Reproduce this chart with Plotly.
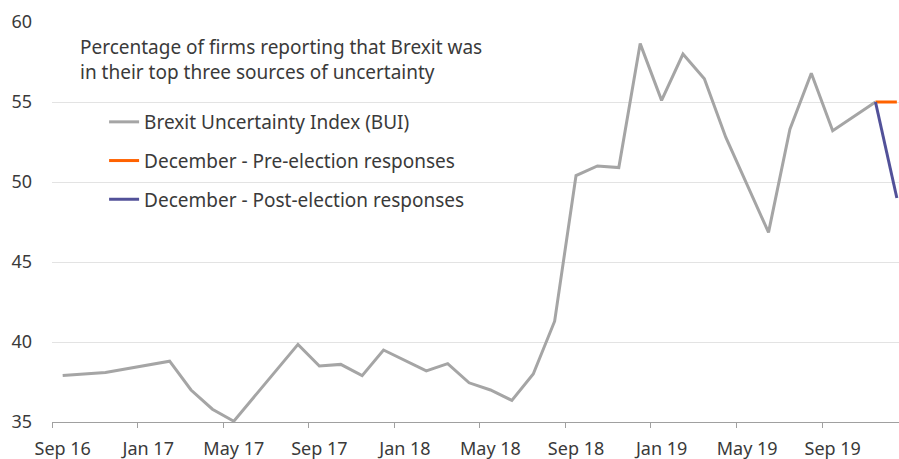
import plotly.graph_objects as go

months = ["Sep 16", "Oct 16", "Nov 16", "Dec 16", "Jan 17", "Feb 17", "Mar 17", "Apr 17",
          "May 17", "Jun 17", "Jul 17", "Aug 17", "Sep 17", "Oct 17", "Nov 17", "Dec 17",
          "Jan 18", "Feb 18", "Mar 18", "Apr 18", "May 18", "Jun 18", "Jul 18", "Aug 18",
          "Sep 18", "Oct 18", "Nov 18", "Dec 18", "Jan 19", "Feb 19", "Mar 19", "Apr 19",
          "May 19", "Jun 19", "Jul 19", "Aug 19", "Sep 19", "Oct 19", "Nov 19", "Dec 19"]

bui = [37.9, None, 38.1, None, None, 38.8, 37.0, 35.8,
       35.05, None, None, 39.85, 38.5, 38.6, 37.9, 39.5,
       None, 38.2, 38.65, 37.45, 37.0, 36.35, 38.0, 41.3,
       50.4, 51.0, 50.9, 58.65, 55.1, 58.0, 56.45, 52.8,
       None, 46.85, 53.3, 56.8, 53.2, None, 55.0, None]

pre_election = [None] * 38 + [55.0, 55.0]
post_election = [None] * 38 + [55.0, 49.0]

tick_labels = ["Sep 16", "Jan 17", "May 17", "Sep 17", "Jan 18", "May 18",
               "Sep 18", "Jan 19", "May 19", "Sep 19"]

title_text = "Percentage of firms reporting that Brexit was<br>in their top three sources of uncertainty"

x_idx = list(range(len(months)))
label_pos = [months.index(t) for t in tick_labels]

FONT = "Noto Sans"
TXT = "#3a3a3a"

fig = go.Figure()
fig.add_trace(go.Scatter(x=x_idx, y=bui, mode="lines", name="Brexit Uncertainty Index (BUI)",
                         line=dict(color="#a5a5a5", width=3), connectgaps=True,
                         legendgroup="a"))
fig.add_trace(go.Scatter(x=x_idx, y=pre_election, mode="lines", name="December - Pre-election responses",
                         line=dict(color="#ff6200", width=3), legendgroup="b"))
fig.add_trace(go.Scatter(x=x_idx, y=post_election, mode="lines", name="December - Post-election responses",
                         line=dict(color="#525199", width=3), legendgroup="c"))

fig.update_layout(
    width=899, height=459,
    margin=dict(l=52, r=0, t=22, b=37),
    paper_bgcolor="white", plot_bgcolor="white",
    font=dict(family=FONT, size=19, color=TXT),
    showlegend=True,
    legend=dict(x=0.0615, y=0.7975, xanchor="left", yanchor="top",
                bgcolor="rgba(0,0,0,0)", font=dict(size=19, color=TXT),
                tracegroupgap=11, traceorder="grouped"),
    annotations=[dict(text=title_text, xref="paper", yref="paper", x=0.031, y=0.975,
                      xanchor="left", yanchor="top", align="left", showarrow=False,
                      font=dict(size=19, color=TXT))],
)

fig.update_xaxes(range=[-0.5, 39.1], tickmode="array", tickvals=label_pos, ticktext=tick_labels,
                 ticks="", showgrid=False, zeroline=False, showline=True, linecolor="#a0a0a0",
                 linewidth=1, tickfont=dict(size=18, color=TXT), ticklabelstandoff=10,
                 automargin=False,
                 minor=dict(tickmode="linear", tick0=-0.5, dtick=4, ticks="outside",
                            ticklen=5, tickcolor="#a0a0a0", showgrid=False))
fig.update_yaxes(range=[35, 60], tickmode="array", tickvals=[35, 40, 45, 50, 55, 60],
                 ticks="", showgrid=True, gridcolor="#e3e3e3", gridwidth=1, zeroline=False,
                 showline=False, tickfont=dict(size=18, color=TXT), ticklabelstandoff=19,
                 automargin=False)

fig.write_html("out.html", config={"displayModeBar": False},
               post_script="document.body.style.margin='0';document.body.style.overflow='hidden';")
